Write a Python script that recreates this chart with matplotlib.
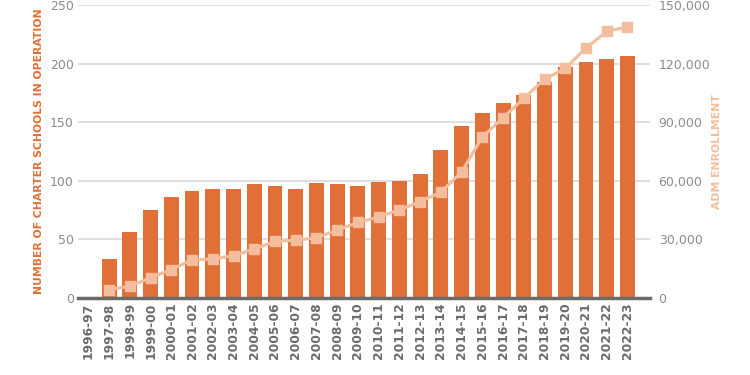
import matplotlib.pyplot as plt
import numpy as np

years = ['1996-97', '1997-98', '1998-99', '1999-00', '2000-01', '2001-02', '2002-03',
         '2003-04', '2004-05', '2005-06', '2006-07', '2007-08', '2008-09', '2009-10',
         '2010-11', '2011-12', '2012-13', '2013-14', '2014-15', '2015-16', '2016-17',
         '2017-18', '2018-19', '2019-20', '2020-21', '2021-22', '2022-23']
schools = [0, 33, 56, 75, 86, 91, 93, 93, 97, 96, 93, 98, 97, 96,
           99, 100, 106, 126, 147, 158, 166, 173, 184, 197, 201, 204, 206]
enrollment = [None, 4400, 6100, 10400, 14600, 19700, 20000, 21700, 25100, 29000, 29600,
              30900, 34800, 38700, 41500, 45100, 49400, 54200, 64500, 82400, 92300,
              102200, 112000, 117500, 127900, 136400, 138800]

bar_color = '#E07038'
line_color = '#F4BE9E'
tick_color = '#8C8C8C'

plt.rcParams['font.family'] = ['DejaVu Sans']

fig = plt.figure(figsize=(7.5, 3.75), dpi=100)
ax = fig.add_axes([0.104, 0.205, 0.763, 0.782])
x = np.arange(len(years))

ax.bar(x, schools, width=0.72, color=bar_color, zorder=2)
ax.set_ylim(0, 250)
ax.set_yticks([0, 50, 100, 150, 200, 250])
ax.set_xlim(-0.5, 27.1)
ax.set_xticks(x)
ax.set_xticklabels(years, rotation=90, fontsize=8.8, fontweight='bold', color='#6b6b6b')
ax.grid(axis='y', color='#d9d9d9', linewidth=1.2, zorder=0)
ax.set_axisbelow(True)
ax.tick_params(axis='both', length=0, pad=3)
ax.tick_params(axis='y', labelsize=9, labelcolor=tick_color)
for s in ['top', 'right', 'left']:
    ax.spines[s].set_visible(False)
ax.spines['bottom'].set_color('#6b6b6b')
ax.spines['bottom'].set_linewidth(2.5)
ax.spines['bottom'].set_zorder(4)
ax.set_ylabel('NUMBER OF CHARTER SCHOOLS IN OPERATION', color=bar_color,
              fontsize=7.8, fontweight='bold', labelpad=4)

ax2 = ax.twinx()
ex = [i for i, v in enumerate(enrollment) if v is not None]
ev = [v for v in enrollment if v is not None]
ax2.plot(ex, ev, color=line_color, linewidth=2.2, marker='s', markersize=7, zorder=3)
ax2.set_ylim(0, 150000)
ax2.set_yticks([0, 30000, 60000, 90000, 120000, 150000])
ax2.set_yticklabels(['0', '30,000', '60,000', '90,000', '120,000', '150,000'])
ax2.tick_params(axis='y', length=0, labelsize=9, labelcolor=tick_color, pad=6)
for s in ['top', 'right', 'left', 'bottom']:
    ax2.spines[s].set_visible(False)
ax2.set_ylabel('ADM ENROLLMENT', color=line_color, fontsize=7.8, fontweight='bold',
               labelpad=1)

fig.savefig('out.png', dpi=100)
